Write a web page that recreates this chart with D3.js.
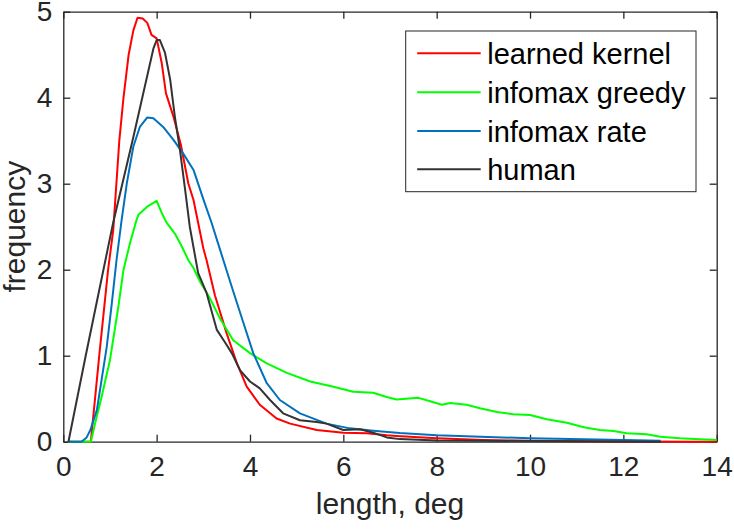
<!DOCTYPE html>
<html>
<head>
<meta charset="utf-8">
<script src="https://cdn.jsdelivr.net/npm/d3@7.9.0/dist/d3.min.js"></script>
<style>
  body { margin: 0; background: #fff; }
  text { font-family: "Liberation Sans", Arial, Helvetica, sans-serif; fill: #262626; }
</style>
</head>
<body>
<svg id="chart" width="734" height="530"></svg>
<script>
// series: [length (deg), frequency]
const learnedKernel = [[0.1,0],[0.59,0],[0.77,1.0],[0.96,2.0],[1.07,2.46],[1.2,3.5],[1.29,4.0],[1.4,4.5],[1.5,4.78],[1.59,4.93],
  [1.7,4.92],[1.8,4.87],[1.89,4.73],[2.0,4.69],[2.11,4.4],[2.2,4.05],[2.36,3.78],[2.52,3.45],[2.68,3.0],[2.79,2.81],
  [3.0,2.25],[3.07,2.11],[3.25,1.7],[3.5,1.26],[3.72,0.91],[3.93,0.64],[4.21,0.43],[4.57,0.27],[4.86,0.21],[5.43,0.136],
  [6.0,0.105],[6.5,0.097],[6.93,0.074],[7.14,0.066],[8.0,0.04],[9.0,0.02],[10.0,0.01],[12.0,0.003],[14.0,0]];

const infomaxGreedy = [[0.11,0],[0.59,0],[0.68,0.21],[0.82,0.52],[1.0,0.95],[1.18,1.57],[1.29,2.0],[1.43,2.31],[1.57,2.58],[1.61,2.64],
  [1.79,2.73],[2.0,2.80],[2.11,2.66],[2.21,2.55],[2.39,2.42],[2.54,2.27],[2.68,2.11],[2.79,2.02],[2.93,1.86],[3.14,1.67],
  [3.36,1.43],[3.64,1.18],[4.0,1.03],[4.36,0.91],[4.79,0.80],[5.29,0.70],[5.79,0.64],[6.21,0.58],[6.64,0.57],[6.93,0.52],
  [7.14,0.49],[7.61,0.51],[7.86,0.47],[8.11,0.43],[8.29,0.45],[8.64,0.43],[8.93,0.39],[9.29,0.345],[9.64,0.32],[10.0,0.31],
  [10.36,0.26],[10.79,0.22],[11.07,0.18],[11.21,0.163],[11.5,0.136],[11.79,0.124],[12.07,0.097],[12.5,0.086],[12.79,0.058],
  [13.21,0.04],[13.64,0.028],[14.0,0.02]];

const infomaxRate = [[0.11,0],[0.39,0],[0.5,0.05],[0.58,0.136],[0.72,0.37],[0.82,0.72],[0.93,1.10],[1.04,1.61],[1.14,2.11],[1.25,2.58],
  [1.36,3.0],[1.5,3.43],[1.64,3.66],[1.8,3.77],[1.93,3.76],[2.14,3.66],[2.36,3.51],[2.57,3.35],[2.79,3.16],[3.0,2.82],
  [3.18,2.54],[3.36,2.23],[3.64,1.75],[3.86,1.38],[4.07,1.03],[4.36,0.68],[4.64,0.485],[5.07,0.33],[5.64,0.21],[6.14,0.155],
  [6.64,0.128],[7.21,0.1],[8.0,0.074],[10.0,0.04],[12.0,0.02],[12.8,0.01]];

const human = [[0.11,0],[0.48,1.0],[0.86,2.0],[1.07,2.55],[1.5,3.54],[1.93,4.57],[2.0,4.67],[2.07,4.67],[2.18,4.52],[2.29,4.21],
  [2.39,3.78],[2.5,3.39],[2.61,2.93],[2.71,2.5],[2.89,1.96],[3.07,1.73],[3.29,1.30],[3.46,1.16],[3.61,1.03],[3.79,0.83],
  [4.0,0.70],[4.21,0.62],[4.43,0.485],[4.71,0.33],[5.07,0.25],[5.43,0.23],[5.64,0.21],[6.0,0.136],[6.36,0.144],[6.64,0.105],
  [6.93,0.05],[7.21,0.03],[8.0,0.015],[10.0,0.008],[12.8,0]];

const seriesNames = ["learned kernel", "infomax greedy", "infomax rate", "human"];
const seriesColors = ["#ff0000", "#00ff00", "#0072bd", "#333333"];
const xTicks = [0, 2, 4, 6, 8, 10, 12, 14];
const yTicks = [0, 1, 2, 3, 4, 5];

const svg = d3.select("#chart");
const margin = { top: 11.7, right: 17.3, bottom: 88.3, left: 63.3 };
const width = +svg.attr("width") - margin.left - margin.right;
const height = +svg.attr("height") - margin.top - margin.bottom;
const g = svg.append("g").attr("transform", `translate(${margin.left},${margin.top})`);

const x = d3.scaleLinear().domain([0, 14]).range([0, width]);
const y = d3.scaleLinear().domain([0, 5]).range([height, 0]);
const axisColor = "#262626";

// Axes (ticks inside, box on)
const styleAxis = sel => {
  sel.select(".domain").attr("stroke", axisColor).attr("stroke-width", 1.3);
  sel.selectAll(".tick line").attr("stroke", axisColor).attr("stroke-width", 1.3);
  sel.selectAll(".tick text").attr("fill", axisColor).style("font-size", "28px")
    .style("font-family", '"Liberation Sans", Arial, sans-serif');
};

g.append("g").attr("transform", `translate(0,${height})`)
  .call(d3.axisBottom(x).tickValues(xTicks).tickFormat(d3.format("d")).tickSize(-7).tickPadding(14).tickSizeOuter(0))
  .call(styleAxis);
g.append("g")
  .call(d3.axisLeft(y).tickValues(yTicks).tickFormat(d3.format("d")).tickSize(-7).tickPadding(11).tickSizeOuter(0))
  .call(styleAxis);
g.append("g")
  .call(d3.axisTop(x).tickValues(xTicks).tickSize(-7).tickFormat("").tickSizeOuter(0))
  .call(styleAxis);
g.append("g").attr("transform", `translate(${width},0)`)
  .call(d3.axisRight(y).tickValues(yTicks).tickSize(-7).tickFormat("").tickSizeOuter(0))
  .call(styleAxis);

// Axis labels
svg.append("text")
  .attr("text-anchor", "middle")
  .attr("x", margin.left + width / 2)
  .attr("y", 514)
  .style("font-size", "30px")
  .text("length, deg");

svg.append("text")
  .attr("text-anchor", "middle")
  .attr("transform", "rotate(-90)")
  .attr("x", -(margin.top + height / 2))
  .attr("y", 25)
  .style("font-size", "30px")
  .text("frequency");

// Lines
const line = d3.line()
  .x(d => x(d[0]))
  .y(d => y(d[1]));

[learnedKernel, infomaxGreedy, infomaxRate, human].forEach((data, i) => {
  g.append("path")
    .datum(data)
    .attr("fill", "none")
    .attr("stroke", seriesColors[i])
    .attr("stroke-width", 2)
    .attr("stroke-linejoin", "round")
    .attr("d", line);
});

// Legend
const legend = svg.append("g").attr("transform", "translate(405.7,31)");
legend.append("rect")
  .attr("width", 290.3).attr("height", 160.7)
  .attr("fill", "#fff").attr("stroke", axisColor).attr("stroke-width", 1);

const rowY = [22.3, 61.3, 100, 138.3];
seriesNames.forEach((name, i) => {
  legend.append("line")
    .attr("x1", 11.5).attr("x2", 75)
    .attr("y1", rowY[i]).attr("y2", rowY[i])
    .attr("stroke", seriesColors[i]).attr("stroke-width", 2);
  legend.append("text")
    .attr("x", 81.5).attr("y", rowY[i] + 11)
    .style("font-size", "29px")
    .style("fill", "#000")
    .text(name);
});
</script>
</body>
</html>
